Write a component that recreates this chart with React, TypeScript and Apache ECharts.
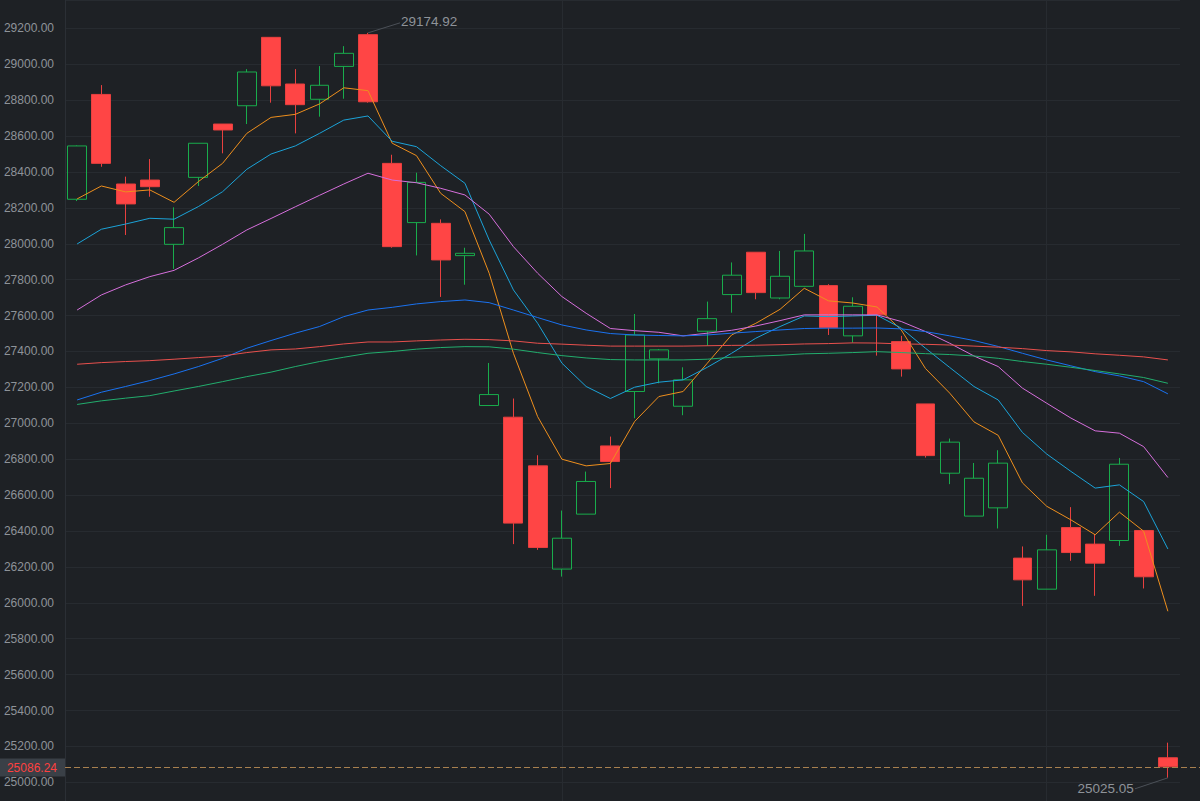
import React, { useEffect, useRef } from "react";
import * as echarts from "echarts";

const categories = [
  "1", "2", "3", "4", "5", "6", "7", "8", "9", "10",
  "11", "12", "13", "14", "15", "16", "17", "18", "19", "20",
  "21", "22", "23", "24", "25", "26", "27", "28", "29", "30",
  "31", "32", "33", "34", "35", "36", "37", "38", "39", "40",
  "41", "42", "43", "44", "45", "46",
];

const opens = [
  28248, 28832, 28333, 28355, 27997, 28370, 28667, 28769, 29150, 28890,
  28805, 28988, 29165, 28448, 28118, 28114, 27934, 27099, 27034, 26763,
  26188, 26494, 26874, 27177, 27359, 27095, 27513, 27717, 27953, 27698,
  27763, 27767, 27487, 27767, 27455, 27108, 26722, 26483, 26529, 26249,
  26076, 26419, 26327, 26347, 26403, 25137,
];
const closes = [
  28545, 28448, 28222, 28318, 28090, 28560, 28634, 28957, 28880, 28775,
  28883, 29061, 28791, 27984, 28342, 27910, 27947, 27160, 26444, 26308,
  26360, 26676, 26787, 27492, 27409, 27242, 27583, 27825, 27728, 27819,
  27960, 27533, 27652, 27604, 27303, 26820, 26895, 26694, 26778, 26128,
  26295, 26280, 26221, 26772, 26145, 25086.24,
];
const lows = [
  28238, 28429, 28049, 28262, 27860, 28322, 28504, 28667, 28786, 28615,
  28708, 28808, 28786, 27978, 27935, 27704, 27772, 27099, 26327, 26295,
  26146, 26494, 26639, 27028, 27223, 27045, 27431, 27616, 27691, 27691,
  27763, 27492, 27449, 27377, 27260, 26809, 26661, 26483, 26414, 25983,
  26076, 26234, 26039, 26317, 26080, 25025.05,
];
const highs = [
  28548, 28884, 28374, 28472, 28203, 28560, 28667, 28973, 29150, 28973,
  28990, 29101, 29174.92, 28496, 28396, 28136, 27978, 27336, 27138, 26822,
  26514, 26731, 26926, 27609, 27414, 27312, 27678, 27896, 27953, 27960,
  28055, 27775, 27702, 27767, 27487, 27108, 26915, 26779, 26850, 26314,
  26379, 26533, 26383, 26807, 26403, 25221,
];

const ma5 = [
  28250, 28322, 28289, 28300, 28231, 28346, 28448, 28615, 28704, 28721,
  28779, 28869, 28853, 28560, 28491, 28281, 28179, 27836, 27390, 27037,
  26800, 26763, 26776, 27010, 27149, 27177, 27335, 27492, 27557, 27635,
  27752, 27682, 27670, 27648, 27520, 27305, 27168, 27008, 26933, 26668,
  26538, 26462, 26379, 26505, 26399, 25953,
];
const ma10 = [
  27999, 28081, 28110, 28142, 28137, 28207, 28290, 28415, 28500, 28545,
  28615, 28689, 28712, 28571, 28541, 28435, 28337, 28021, 27743, 27557,
  27335, 27205, 27138, 27201, 27229, 27242, 27312, 27390, 27474, 27539,
  27598, 27594, 27598, 27602, 27530, 27418, 27311, 27205, 27130, 26949,
  26829, 26732, 26639, 26657, 26564, 26300,
];
const ma20 = [
  27631, 27715, 27771, 27817, 27852, 27921, 27997, 28077, 28141, 28206,
  28270, 28333, 28393, 28355, 28340, 28309, 28272, 28165, 27984, 27836,
  27706, 27613, 27528, 27516, 27507, 27487, 27502, 27518, 27542, 27572,
  27604, 27604, 27604, 27604, 27567, 27511, 27446, 27375, 27316, 27196,
  27112, 27029, 26958, 26945, 26870, 26698,
];
const ma30 = [
  27130, 27173, 27205, 27238, 27275, 27316, 27362, 27418, 27461, 27502,
  27539, 27594, 27631, 27646, 27665, 27678, 27687, 27672, 27631, 27589,
  27548, 27520, 27500, 27492, 27489, 27487, 27492, 27502, 27511, 27520,
  27528, 27530, 27530, 27531, 27526, 27511, 27487, 27461, 27428, 27390,
  27353, 27320, 27288, 27264, 27232, 27164,
];
const ma60 = [
  27329, 27338, 27344, 27349, 27357, 27366, 27375, 27394, 27409, 27414,
  27427, 27442, 27453, 27453, 27459, 27464, 27468, 27466, 27459, 27446,
  27441, 27435, 27430, 27430, 27430, 27430, 27432, 27434, 27435, 27438,
  27442, 27444, 27448, 27447, 27442, 27440, 27436, 27430, 27424, 27416,
  27405, 27398, 27387, 27379, 27370, 27353,
];
const ma120 = [
  27105, 27125, 27140, 27154, 27180, 27205, 27232, 27260, 27285, 27316,
  27344, 27368, 27390, 27400, 27413, 27422, 27427, 27426, 27413, 27394,
  27377, 27364, 27355, 27353, 27353, 27353, 27357, 27368, 27374, 27379,
  27387, 27390, 27394, 27399, 27394, 27388, 27383, 27375, 27362, 27344,
  27329, 27312, 27294, 27275, 27255, 27223,
];

const maNames = ["MA5", "MA10", "MA20", "MA30", "MA60", "MA120"];
const maColors = ["#ee8f1d", "#1ba3d8", "#d66fdc", "#1a72f0", "#e8504d", "#22ad6d"];
const maSeries = [ma5, ma10, ma20, ma30, ma60, ma120];

const lastPrice = 25086.24;
const yMin = 24896;
const yMax = 29358;
const monthSplitIndexes = [20, 40];

const BG = "#1e2125";
const TEXT = "#8e9399";
const GRIDLINE = "#272b30";
const UP = "#19ac4c";
const DOWN = "#ff4545";
const FONT = "Liberation Sans, Arial, sans-serif";
const GRID_LEFT = 65;
const WIDTH = 1200;
const HEIGHT = 801;

export default function App() {
  const ref = useRef<HTMLDivElement>(null);

  useEffect(() => {
    document.body.style.margin = "0";
    const chart = echarts.init(ref.current!, null, { renderer: "svg" });
    const candleData = categories.map((_, i) => [opens[i], closes[i], lows[i], highs[i]]);

    const option: any = {
      animation: false,
      backgroundColor: BG,
      grid: { left: GRID_LEFT, right: 20, top: 0, bottom: 0 },
      xAxis: {
        type: "category",
        data: categories,
        boundaryGap: true,
        axisLine: { show: false },
        axisTick: { show: false },
        axisLabel: { show: false },
        splitLine: {
          show: true,
          alignWithLabel: true,
          interval: (idx: number) => monthSplitIndexes.includes(idx),
          lineStyle: { color: GRIDLINE, width: 1 },
        },
      },
      yAxis: {
        type: "value",
        min: yMin,
        max: yMax,
        splitNumber: 20,
        axisLine: { show: true, lineStyle: { color: "#2b2f35" } },
        axisTick: { show: false },
        axisLabel: {
          color: TEXT,
          fontSize: 12,
          fontFamily: FONT,
          margin: 11,
          showMinLabel: false,
          showMaxLabel: false,
          formatter: (v: number) => v.toFixed(2),
        },
        splitLine: { show: true, lineStyle: { color: GRIDLINE, width: 1 } },
      },
      series: [
        {
          type: "candlestick",
          name: "K",
          data: candleData,
          barWidth: "80%",
          itemStyle: {
            color: "transparent",
            color0: DOWN,
            borderColor: UP,
            borderColor0: "#e8403f",
            borderWidth: 1,
          },
        },
        ...maSeries.map((d, i) => ({
          type: "line",
          name: maNames[i],
          data: d,
          showSymbol: false,
          symbol: "none",
          smooth: false,
          lineStyle: { color: maColors[i], width: 1 },
          itemStyle: { color: maColors[i] },
          z: 3,
        })),
      ],
    };
    chart.setOption(option);

    const maxVal = Math.max(...highs);
    const minVal = Math.min(...lows);
    const maxIdx = highs.indexOf(maxVal);
    const minIdx = lows.indexOf(minVal);
    const pMax = chart.convertToPixel({ gridIndex: 0 }, [maxIdx, maxVal]) as number[];
    const pMin = chart.convertToPixel({ gridIndex: 0 }, [minIdx, minVal]) as number[];
    const pLast = chart.convertToPixel({ gridIndex: 0 }, [categories.length - 1, lastPrice]) as number[];
    const lastY = Math.round(pLast[1]) + 0.5;

    chart.setOption({
      graphic: [
        {
          type: "line",
          silent: true,
          shape: { x1: GRID_LEFT, y1: lastY, x2: WIDTH, y2: lastY },
          style: { stroke: "#a8804f", lineWidth: 1, lineDash: [6, 3] },
          z: 9,
        },
        {
          type: "text",
          silent: true,
          x: GRID_LEFT,
          y: lastY,
          style: {
            text: lastPrice.toFixed(2),
            fill: "#ff4040",
            fontSize: 12,
            fontFamily: FONT,
            align: "right",
            verticalAlign: "middle",
            backgroundColor: "#3a4047",
            padding: [3, 8],
          },
          z: 11,
        },
        {
          type: "line",
          silent: true,
          shape: { x1: pMax[0], y1: pMax[1], x2: pMax[0] + 32, y2: pMax[1] - 10 },
          style: { stroke: "#4b5057", lineWidth: 1 },
          z: 10,
        },
        {
          type: "text",
          silent: true,
          x: pMax[0] + 33,
          y: pMax[1] - 11,
          style: {
            text: maxVal.toFixed(2),
            fill: TEXT,
            fontSize: 13.5,
            fontFamily: FONT,
            align: "left",
            verticalAlign: "middle",
          },
          z: 10,
        },
        {
          type: "line",
          silent: true,
          shape: { x1: pMin[0], y1: pMin[1], x2: pMin[0] - 33, y2: pMin[1] + 11 },
          style: { stroke: "#4b5057", lineWidth: 1 },
          z: 10,
        },
        {
          type: "text",
          silent: true,
          x: pMin[0] - 34,
          y: pMin[1] + 11,
          style: {
            text: minVal.toFixed(2),
            fill: TEXT,
            fontSize: 13.5,
            fontFamily: FONT,
            align: "right",
            verticalAlign: "middle",
          },
          z: 10,
        },
      ],
    });

    return () => chart.dispose();
  }, []);

  return <div ref={ref} style={{ width: WIDTH, height: HEIGHT }} />;
}
